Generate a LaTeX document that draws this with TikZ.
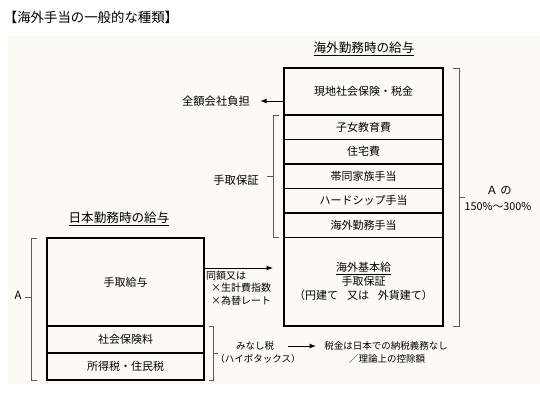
\documentclass[tikz,border=0pt]{standalone}
\usepackage{fontspec}
\setmainfont{Noto Sans CJK JP}
\usetikzlibrary{positioning,arrows.meta}

\definecolor{paper}{HTML}{FBFAF5}
\definecolor{bracket}{HTML}{5A5A5A}

\begin{document}
\begin{tikzpicture}[x=1pt,y=-1pt,
					box node/.style={rectangle,draw,line width=1.2pt,
						minimum width=159pt,minimum height=24.5pt,
						inner sep=0pt,outer sep=0pt,
						font=\fontsize{11}{14}\selectfont},
					label node/.style={inner sep=1pt,font=\fontsize{9.5}{12.5}\selectfont},
					big label/.style={inner sep=1pt,font=\fontsize{11.3}{14}\selectfont},
					head node/.style={inner sep=1pt,font=\fontsize{12.6}{14}\selectfont},
					brace/.style={draw=bracket,line width=0.9pt},
					arr/.style={-{Latex[length=6.5pt,width=5pt]},line width=1pt}]

  \useasboundingbox (0,0) rectangle (540,408);
  \fill[paper] (8,36) rectangle (540,384);

  \node[inner sep=1pt,font=\fontsize{13.4}{15}\selectfont] (title) at (91,17) {【海外手当の一般的な種類】};

  % 海外勤務時
  \node[head node] (kaigaihead) at (364,49) {\underline{海外勤務時の給与}};
  \node[box node,minimum height=47pt] (genchi) at (363.5,91.5) {現地社会保険・税金};
  \node[box node] (shijo) [below=0pt of genchi] {子女教育費};
  \node[box node] (jutaku) [below=0pt of shijo] {住宅費};
  \node[box node] (taido) [below=0pt of jutaku] {帯同家族手当};
  \node[box node] (hard) [below=0pt of taido] {ハードシップ手当};
  \node[box node] (kinmu) [below=0pt of hard] {海外勤務手当};
  \node[box node,minimum height=88.5pt,align=center] (kihon) [below=0pt of kinmu]
    {\underline{海外基本給}\\手取保証\\（円建て\hspace{0.8em}又は\hspace{0.8em}外貨建て）};

  \node[big label] (zengaku) at (216,101) {全額会社負担};
  \node[big label] (tedorihosho) at (236,180) {手取保証};
  \node[big label] (percA) at (499,191) {Ａ の};
  \node[inner sep=1pt,font=\fontsize{10.8}{13}\selectfont] (perc) at (498,207) {150\%～300\%};

  % 日本勤務時
  \node[head node] (nihonhead) at (119,219) {\underline{日本勤務時の給与}};
  \node[box node,minimum width=157pt,minimum height=88pt] (tedori) at (125.5,282) {手取給与};
  \node[box node,minimum width=157pt,minimum height=27pt] (shakai) [below=0pt of tedori] {社会保険料};
  \node[box node,minimum width=157pt,minimum height=27pt] (shotoku) [below=0pt of shakai] {所得税・住民税};
  \node[big label] (A) at (18,295) {A};
  \node[label node,anchor=west,align=left,font=\fontsize{10}{12.5}\selectfont] (dougaku) at (205,288)
    {同額又は\\\hspace{5pt}×生計費指数\\\hspace{5pt}×為替レート};
  \node[label node] (minashi) at (255,346) {みなし税};
  \node[label node] (haipo) at (258,359) {（ハイポタックス）};
  \node[label node] (zeikin) at (386,346) {税金は日本での納税義務なし};
  \node[label node] (kojo) at (387,359) {／理論上の控除額};

  % brackets
  \draw[brace] ([xshift=10pt]genchi.north east) -- ([xshift=16pt]genchi.north east)
    -- coordinate[midway] (rmid) ([xshift=16pt]kihon.south east) -- ([xshift=10pt]kihon.south east);
  \draw[brace] (rmid) -- ++(6,0);
  \draw[brace] ([xshift=-5pt]shijo.north west) -- ([xshift=-11pt]shijo.north west)
    -- coordinate[midway] (tmid) ([xshift=-11pt]kinmu.south west) -- ([xshift=-5pt]kinmu.south west);
  \draw[brace] (tmid) -- ++(-6,0);
  \draw[brace] ([xshift=-10pt]tedori.north west) -- ([xshift=-16pt]tedori.north west)
    -- coordinate[pos=0.42] (amid) ([xshift=-16pt]shotoku.south west) -- ([xshift=-10pt]shotoku.south west);
  \draw[brace] (amid) -- ++(-6,0);
  \draw[brace] ([xshift=5pt]shakai.north east) -- ([xshift=9pt]shakai.north east)
    -- coordinate[midway] (mmid) ([xshift=9pt]shotoku.south east) -- ([xshift=5pt]shotoku.south east);
  \draw[brace] (mmid) -- ++(5,0);

  % arrows
  \draw[arr,shorten >=9pt] (zengaku -| genchi.west) -- (zengaku.east);
  \draw[arr,shorten >=11pt] ([yshift=14pt]tedori.east) -- ([yshift=14pt]tedori.east -| kihon.west);
  \draw[arr,shorten >=7pt] ([xshift=13pt]minashi.east) -- (zeikin.west);
\end{tikzpicture}
\end{document}
